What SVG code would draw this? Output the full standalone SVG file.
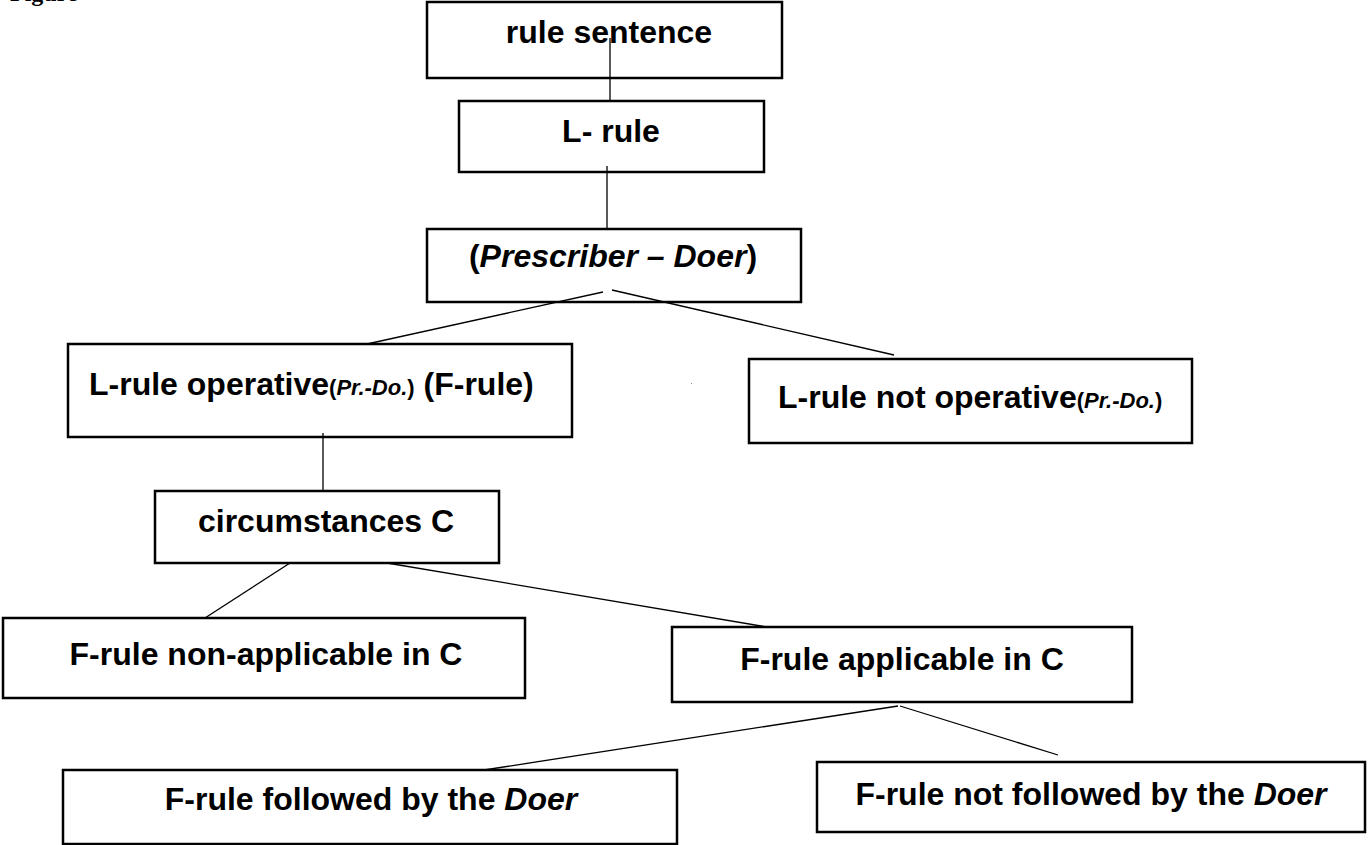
<svg xmlns="http://www.w3.org/2000/svg" width="1368" height="845" viewBox="0 0 1368 845">
<style>
.box{fill:#fff;stroke:#000;stroke-width:2.5}
.t{font-family:"Liberation Sans",Arial,sans-serif;font-weight:bold;font-size:32px;fill:#000}
.c{text-anchor:middle}
.i{font-style:italic}
.s{font-size:22px}
.ln{stroke:#000;stroke-width:1.3;fill:none}
</style>
<rect width="1368" height="845" fill="#fff"/>
<text x="10" y="1" font-family="Liberation Serif,serif" font-weight="bold" font-size="24">Figure</text>
<g id="n1"><rect class="box" x="427" y="2" width="355" height="76"/><text class="t c" x="609" y="43">rule sentence</text></g>
<g id="n2"><rect class="box" x="459" y="101" width="305" height="71"/><text class="t c" x="611" y="142">L- rule</text></g>
<g id="n3"><rect class="box" x="427" y="229" width="374" height="73"/><text class="t c" x="613" y="267">(<tspan class="i">Prescriber – Doer</tspan>)</text></g>
<g id="n4"><rect class="box" x="68" y="344" width="504" height="93"/><text class="t" x="89" y="395">L-rule operative<tspan class="s">(<tspan class="i">Pr.-Do.</tspan>)</tspan> (F-rule)</text></g>
<g id="n5"><rect class="box" x="749" y="359" width="443" height="84"/><text class="t" x="778" y="408">L-rule not operative<tspan class="s">(<tspan class="i">Pr.-Do.</tspan>)</tspan></text></g>
<g id="n6"><rect class="box" x="155" y="491" width="344" height="72"/><text class="t c" x="326" y="532">circumstances C</text></g>
<g id="n7"><rect class="box" x="3" y="618" width="522" height="80"/><text class="t c" x="266" y="665">F-rule non-applicable in C</text></g>
<g id="n8"><rect class="box" x="672" y="627" width="460" height="75"/><text class="t c" x="902" y="670">F-rule applicable in C</text></g>
<g id="n9"><rect class="box" x="63" y="770" width="614" height="74"/><text class="t c" x="371" y="810">F-rule followed by the <tspan class="i">Doer</tspan></text></g>
<g id="n10"><rect class="box" x="817" y="762" width="548" height="70"/><text class="t c" x="1091" y="805">F-rule not followed by the <tspan class="i">Doer</tspan></text></g>
<rect x="691" y="383" width="1" height="1" fill="#888"/>
<g id="connectors">
<line class="ln" x1="610" y1="38" x2="610" y2="101"/>
<line class="ln" x1="607" y1="166" x2="607" y2="229"/>
<line class="ln" x1="603" y1="292" x2="367" y2="344"/>
<line class="ln" x1="612" y1="290" x2="894" y2="355"/>
<line class="ln" x1="323" y1="433" x2="323" y2="491"/>
<line class="ln" x1="290" y1="563" x2="205" y2="618"/>
<line class="ln" x1="387" y1="563" x2="767" y2="627"/>
<line class="ln" x1="898" y1="706" x2="484" y2="770"/>
<line class="ln" x1="900" y1="706" x2="1058" y2="755"/>
</g>
</svg>
